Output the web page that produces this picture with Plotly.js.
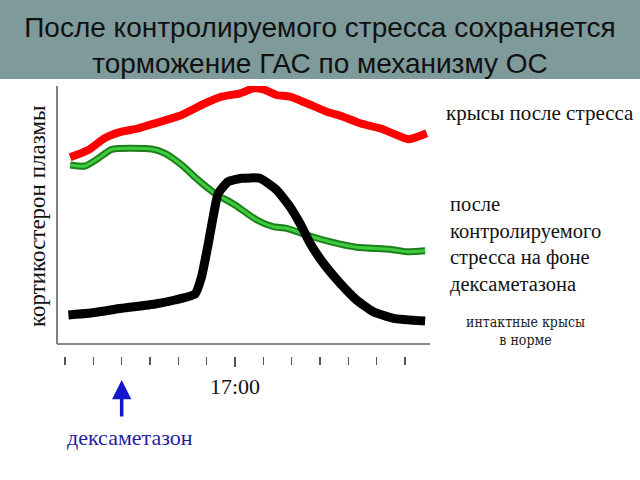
<!DOCTYPE html>
<html>
<head>
<meta charset="utf-8">
<script src="https://cdn.plot.ly/plotly-3.0.1.min.js"></script>
<style>html,body{margin:0;padding:0;background:#fff;}#chart{width:640px;height:480px;}</style>
</head>
<body>
<div id="chart"></div>
<script>
// Time in tick units (tick 6 = 17:00), level in arbitrary units
const redX = [0.18,0.82,1.41,2.00,2.59,3.18,4.12,4.82,5.53,6.18,6.65,7.00,7.47,7.94,8.53,9.24,9.82,10.41,11.12,11.71,12.12,12.77];
const redY = [186.7,194,206,212.3,215.7,220.7,229,239,247.3,250.7,255.7,254.7,249,247.3,240.7,232.3,227.3,220.7,215.7,209,204.7,210.7];

const greenX = [0.18,0.71,1.18,1.65,3.06,3.53,4.12,4.70,5.29,6.00,6.77,7.35,7.82,8.53,9.35,10.29,11.47,12.06,12.71];
const greenY = [179,178,185.7,194.7,195,190.7,179,164,150.7,139,124,117.3,115.7,109,102.3,96.7,94.7,92.3,93.3];

const blackX = [0.12,0.82,2.00,3.18,3.88,4.59,4.82,5.06,5.23,5.41,5.76,6.24,6.88,7.47,7.94,8.29,8.65,9.12,9.71,10.29,10.88,11.59,12.71];
const blackY = [29,30.7,35.7,40,44,50,67.3,100.7,127.3,150.7,162.3,165.7,165.7,154,137.3,120.7,100.7,80.7,60.7,44,32.3,25.7,23];

const tickIdx = [0,1,2,3,4,5,6,7,8,9,10,11,12];
const majorTickVals = [6];
const majorTickText = ['17:00'];
const dexaTick = 2;

const titleText = 'После контролируемого стресса сохраняется<br>торможение ГАС по механизму ОС';
const yLabel = 'кортикостерон плазмы';
const labelStress = 'крысы после стресса';
const labelDexa = 'после<br>контролируемого<br>стресса на фоне<br>дексаметазона';
const labelIntact = 'интактные крысы<br>в норме';
const labelArrow = 'дексаметазон';

// layout geometry helpers (pixel -> paper)
const L = 57, R = 430, T = 86, B = 356;
const px = x => (x - L) / (R - L);
const py = y => (B - y) / (B - T);

const serif = 'Liberation Serif, Times New Roman, serif';

const traces = [
  {x: redX, y: redY, mode: 'lines', line: {color: '#ff0000', width: 8, shape: 'spline', smoothing: 0.6}, hoverinfo: 'skip'},
  {x: greenX, y: greenY, mode: 'lines', line: {color: '#1c7f1c', width: 7, shape: 'spline', smoothing: 0.6}, hoverinfo: 'skip'},
  {x: greenX, y: greenY, mode: 'lines', line: {color: '#3ecb3e', width: 3, shape: 'spline', smoothing: 0.6}, hoverinfo: 'skip'},
  {x: blackX, y: blackY, mode: 'lines', line: {color: '#000000', width: 9, shape: 'spline', smoothing: 0.45}, hoverinfo: 'skip'}
];

const layout = {
  width: 640, height: 480,
  margin: {l: L, r: 640 - R, t: T, b: 480 - B, pad: 0},
  paper_bgcolor: '#ffffff', plot_bgcolor: 'rgba(0,0,0,0)',
  showlegend: false,
  title: {
    text: titleText, x: 0.5, xref: 'container', xanchor: 'center',
    y: 1 - 37 / 480, yref: 'container', yanchor: 'middle',
    font: {family: 'Liberation Sans, Arial, sans-serif', size: 28, color: '#111111'}
  },
  xaxis: {
    range: [(L - 65) / 28.333, (R - 65) / 28.333],
    showline: false, showgrid: false, zeroline: false,
    tickmode: 'array', tickvals: majorTickVals, ticktext: majorTickText,
    ticks: 'outside', ticklen: 10, tickwidth: 1.5, tickcolor: '#555',
    ticklabelstandoff: 1,
    tickfont: {family: serif, size: 22, color: '#111'},
    minor: {tickmode: 'array', tickvals: tickIdx, ticks: 'outside', ticklen: 8, tickwidth: 1.5, tickcolor: '#555'},
    fixedrange: true
  },
  yaxis: {
    range: [-12, 258], showline: false, showgrid: false, zeroline: false,
    showticklabels: false, ticks: '', fixedrange: true
  },
  shapes: [
    {type: 'rect', xref: 'paper', yref: 'paper', x0: px(0), x1: px(640), y0: py(79), y1: py(0),
     fillcolor: '#7e9a9a', line: {width: 0}, layer: 'below'},
    {type: 'line', xref: 'paper', yref: 'y', x0: 0, x1: 0, y0: 0, y1: 258, line: {color: '#555', width: 1.5}},
    {type: 'line', xref: 'paper', yref: 'y', x0: 0, x1: 1, y0: 0, y1: 0, line: {color: '#888', width: 2}}
  ],
  annotations: [
    {text: yLabel, xref: 'paper', yref: 'paper', x: px(37), y: py(217), textangle: -90,
     showarrow: false, xanchor: 'center', yanchor: 'middle', font: {family: serif, size: 23, color: '#111'}},
    {text: labelStress, xref: 'paper', yref: 'paper', x: px(444), y: py(113), showarrow: false,
     xanchor: 'left', yanchor: 'middle', font: {family: serif, size: 21, color: '#111'}},
    {text: labelDexa, xref: 'paper', yref: 'paper', x: px(448), y: py(244), showarrow: false, align: 'left',
     xanchor: 'left', yanchor: 'middle', font: {family: serif, size: 20.5, color: '#111'}},
    {text: labelIntact, xref: 'paper', yref: 'paper', x: px(525), y: py(331), showarrow: false, align: 'center',
     xanchor: 'center', yanchor: 'middle', font: {family: 'DejaVu Serif Condensed, DejaVu Serif, serif', size: 14, color: '#222'}},
    {text: '', xref: 'x', yref: 'paper', x: dexaTick, y: py(380), showarrow: true, ax: 0, ay: 38,
     arrowhead: 2, arrowsize: 1.1, arrowwidth: 3.5, arrowcolor: '#1515d0'},
    {text: labelArrow, xref: 'paper', yref: 'paper', x: px(130), y: py(437), showarrow: false,
     xanchor: 'center', yanchor: 'middle', font: {family: serif, size: 22, color: '#1f1fa0'}}
  ]
};

Plotly.newPlot('chart', traces, layout, {staticPlot: true, displayModeBar: false});
</script>
</body>
</html>
